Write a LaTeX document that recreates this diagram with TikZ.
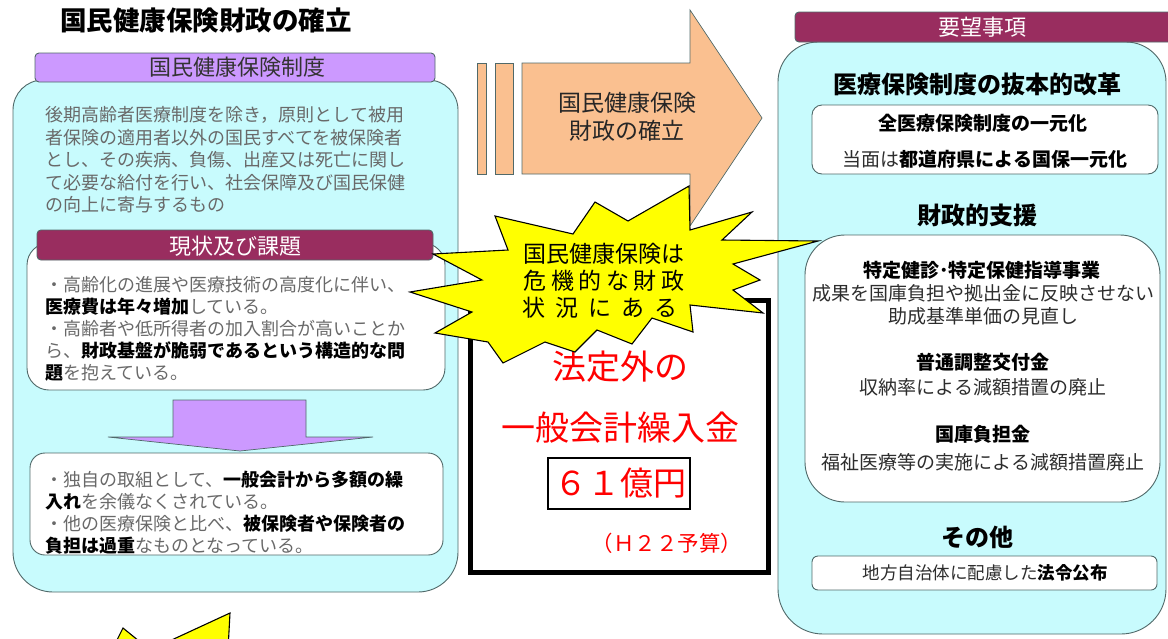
\documentclass[tikz,border=0pt]{standalone}
\usepackage{fontspec}
\setmainfont{Noto Sans CJK JP}
\newcommand{\myfs}[1]{\fontsize{#1}{#1}\selectfont}
\definecolor{cyanfill}{RGB}{200,251,253}
\definecolor{boxline}{RGB}{80,105,105}
\definecolor{purplefill}{RGB}{204,153,255}
\definecolor{maroonfill}{RGB}{153,45,95}
\definecolor{peachfill}{RGB}{250,192,144}
\definecolor{txtgrey}{RGB}{105,105,105}
\definecolor{txtdark}{RGB}{45,45,45}
\definecolor{starfill}{RGB}{255,255,0}
\definecolor{redtxt}{RGB}{255,0,0}
\begin{document}
\begin{tikzpicture}[x=1pt,y=-1pt,
  outl/.style={draw=boxline,line width=0.9pt},
  whitebox/.style={outl,fill=white},
  lt/.style={anchor=base west,inner sep=0pt,text=txtgrey,font=\myfs{18}},
  ct/.style={anchor=base,inner sep=0pt},
  rt/.style={ct,text=txtdark,font=\myfs{19}},
  rh/.style={ct,text=black,font=\myfs{19}\bfseries},
  bighead/.style={ct,text=black,font=\myfs{24}\bfseries},
  redt/.style={ct,text=redtxt}]
\useasboundingbox (0,0) rectangle (1168,638);
\fill[white] (0,0) rectangle (1168,638);

% title
\node[anchor=base west,inner sep=0pt,font=\myfs{26.5}\bfseries,text=black] (title) at (60,30) {国民健康保険財政の確立};

% ---------- left big box
\draw[outl,fill=cyanfill] (13,300) [rounded corners=30] -- (13,80) -- (458,80) -- (458,300) [rounded corners=40] -- (458,592) -- (13,592) -- cycle;
\draw[outl,fill=purplefill,rounded corners=4] (35,53) rectangle (435,82);
\node[ct,font=\myfs{22},text=black!80] (h1) at (237,75.5) {国民健康保険制度};

\node[lt] (p1) at (45,121.8) {後期高齢者医療制度を除き，原則として被用};
\node[lt] (p2) at (45,144.3) {者保険の適用者以外の国民すべてを被保険者};
\node[lt] (p3) at (45,166.8) {とし、その疾病、負傷、出産又は死亡に関し};
\node[lt] (p4) at (45,189.3) {て必要な給付を行い、社会保障及び国民保健};
\node[lt] (p5) at (45,211.8) {の向上に寄与するもの};

\draw[whitebox,rounded corners=22] (27,243) rectangle (445,390);
\draw[outl,fill=maroonfill,rounded corners=4] (37,230) rectangle (433,260);
\node[ct,font=\myfs{22},text=white] (h2) at (235,254.5) {現状及び課題};

\node[lt] (q1) at (45,291.8) {・高齢化の進展や医療技術の高度化に伴い、};
\node[lt] (q2) at (45,313.8) {\textcolor{black}{\bfseries 医療費は年々増加}している。};
\node[lt] (q3) at (45,335.8) {・高齢者や低所得者の加入割合が高いことか};
\node[lt] (q4) at (45,357.8) {ら、\textcolor{black}{\bfseries 財政基盤が脆弱であるという構造的な問}};
\node[lt] (q5) at (45,379.8) {\textcolor{black}{\bfseries 題}を抱えている。};

% purple down arrow
\draw[outl,fill=purplefill,line width=0.7pt] (173,400) -- (306,400) -- (306,437) -- (373,437) -- (240,451) -- (108,437) -- (173,437) -- cycle;

\draw[whitebox,rounded corners=15] (30,453) rectangle (443,555);
\node[lt] (r1) at (45,486.8) {・独自の取組として、\textcolor{black}{\bfseries 一般会計から多額の繰}};
\node[lt] (r2) at (45,508.8) {\textcolor{black}{\bfseries 入れ}を余儀なくされている。};
\node[lt] (r3) at (45,530.8) {・他の医療保険と比べ、\textcolor{black}{\bfseries 被保険者や保険者の}};
\node[lt] (r4) at (45,552.8) {\textcolor{black}{\bfseries 負担は過重}なものとなっている。};

% ---------- orange arrow
\draw[outl,fill=peachfill,line width=0.7pt] (477,63) rectangle (486,174);
\draw[outl,fill=peachfill,line width=0.7pt] (495,63) rectangle (513,174);
\draw[outl,fill=peachfill,line width=0.7pt] (522,63) -- (690,63) -- (690,10) -- (762,118) -- (690,226) -- (690,174) -- (522,174) -- cycle;
\node[ct,font=\myfs{23},text=black!85] (ar1) at (627,111.7) {国民健康保険};
\node[ct,font=\myfs{23},text=black!85] (ar2) at (627,139.7) {財政の確立};

% ---------- right big box
\draw[outl,fill=cyanfill] (778,300) [rounded corners=40] -- (778,42) -- (1166,42) -- (1166,300) [rounded corners=45] -- (1166,634) -- (778,634) -- cycle;
\draw[outl,fill=maroonfill,rounded corners=4] (795,12) rectangle (1180,42);
\node[ct,font=\myfs{22},text=white] (h3) at (982,35.4) {要望事項};

\node[bighead] (k1) at (977,93.1) {医療保険制度の抜本的改革};
\draw[whitebox,rounded corners=10] (812,105) rectangle (1158,174);
\node[rh] (k1a) at (983,130.2) {全医療保険制度の一元化};
\node[rt] (k1b) at (985,166.2) {当面は\textcolor{black}{\bfseries 都道府県による国保一元化}};

\node[bighead] (k2) at (977,224.1) {財政的支援};
\draw[whitebox,rounded corners=40] (805,235) rectangle (1160,502);
\node[rh] (k2a) at (982,277.2) {特定健診･特定保健指導事業};
\node[rt] (k2b) at (983,300.2) {成果を国庫負担や拠出金に反映させない};
\node[rt] (k2c) at (983,323.2) {助成基準単価の見直し};
\node[rh] (k2d) at (983,369.2) {普通調整交付金};
\node[rt] (k2e) at (983,394.2) {収納率による減額措置の廃止};
\node[rh] (k2f) at (983,441.2) {国庫負担金};
\node[rt] (k2g) at (983,469.2) {福祉医療等の実施による減額措置廃止};

\node[bighead] (k3) at (977,546.1) {その他};
\draw[whitebox,rounded corners=6] (812,556) rectangle (1157,590);
\node[rt,font=\myfs{17.5}] (k3a) at (985,579.6) {地方自治体に配慮した\textcolor{black}{\bfseries 法令公布}};

% ---------- black box with red text
\draw[black,line width=5pt] (470,300) rectangle (768,572);
\node[redt,font=\myfs{34}] (m1) at (620,379.9) {法定外の};
\node[redt,font=\myfs{34}] (m2) at (620,440.9) {一般会計繰入金};
\draw[black,line width=1.6pt] (548,458) rectangle (690,509);
\node[redt,font=\myfs{33}] (m3) at (620,495.5) {６１億円};
\node[redt,font=\myfs{21.5}] (m4) at (667,551.2) {（Ｈ２２予算）};

% ---------- star burst
\draw[black,line width=1.1pt,fill=starfill,line join=miter]
  (495,216) -- (573,234) -- (595,202) -- (628,221) -- (689,186) -- (690,230)
  -- (752,212) -- (722,240) -- (818,241) -- (733,264) -- (760,280) -- (733,290)
  -- (763,313) -- (690,305) -- (693,332) -- (652,318) -- (632,344) -- (597,330)
  -- (575,352) -- (545,342) -- (503,363) -- (488,342) -- (435,333) -- (472,312)
  -- (410,292) -- (482,280) -- (433,254) -- (508,250) -- cycle;
\node[ct,font=\myfs{23},text=black] (s1) at (604,262.7) {国民健康保険は};
\node[ct,font=\myfs{23},text=black] (s2) at (604,289.7) {\makebox[161pt][s]{危\hfill 機\hfill 的\hfill な\hfill 財\hfill 政}};
\node[ct,font=\myfs{23},text=black] (s3) at (600,316.7) {\makebox[155pt][s]{状\hfill 況\hfill に\hfill あ\hfill る}};

% ---------- bottom-left yellow spikes
\begin{scope}
\clip (0,0) rectangle (1168,638);
\draw[black,line width=1.1pt,fill=starfill] (112,650) -- (123,628) -- (150,650) -- (230,613) -- (228,650) -- cycle;
\end{scope}
\end{tikzpicture}
\end{document}
